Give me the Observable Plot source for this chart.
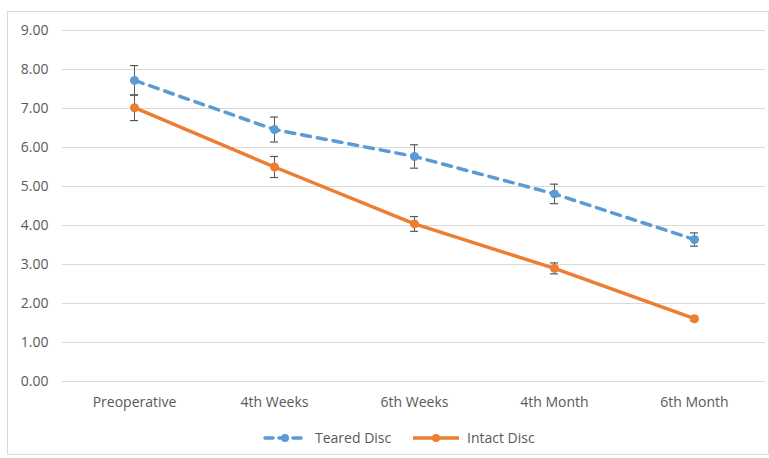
<!DOCTYPE html>
<html><head><meta charset="utf-8">
<script src="https://cdn.jsdelivr.net/npm/d3@7"></script>
<script src="https://cdn.jsdelivr.net/npm/@observablehq/plot@0.6"></script>
<style>
body{margin:0;background:#fff;font-family:"Open Sans",Arial,sans-serif;}
#frame{position:absolute;left:7px;top:11px;width:762px;height:444px;border:1px solid #d9d9d9;box-sizing:border-box;}
#chart{position:absolute;left:0;top:0;}
.item{position:absolute;top:428px;display:flex;align-items:center;font-size:14px;color:#595959;white-space:nowrap;}
.item svg{margin-right:7px;}
</style></head><body>
<div id="frame"></div>
<div id="chart"></div>
<div class="item" style="left:263px"><svg width="45" height="12"><line x1="2" y1="6" x2="43" y2="6" stroke="#5B9BD5" stroke-width="3.5" stroke-dasharray="8,6" stroke-linecap="round"/><circle cx="22" cy="6" r="4" fill="#5B9BD5"/></svg>Teared Disc</div>
<div class="item" style="left:412px"><svg width="48" height="12"><line x1="1" y1="6" x2="47" y2="6" stroke="#ED7D31" stroke-width="3.5"/><circle cx="24" cy="6" r="4" fill="#ED7D31"/></svg>Intact Disc</div>
<script>
const categories = ["Preoperative","4th Weeks","6th Weeks","4th Month","6th Month"];
const tearedValues = [7.72, 6.46, 5.77, 4.81, 3.64];
const tearedErrors = [0.38, 0.32, 0.30, 0.25, 0.17];
const intactValues = [7.02, 5.50, 4.04, 2.90, 1.61];
const intactErrors = [0.33, 0.27, 0.19, 0.14, 0.05];
const yTicks = [0,1,2,3,4,5,6,7,8,9];

const series = [
  {name:"Teared Disc", values:tearedValues, errors:tearedErrors, color:"#5B9BD5", dash:"9,7"},
  {name:"Intact Disc", values:intactValues, errors:intactErrors, color:"#ED7D31", dash:null}
];
const rows = series.flatMap(s => categories.map((c,i)=>({series:s.name, cat:c, v:s.values[i], e:s.errors[i]})));

const marks = [
  Plot.gridY(yTicks, {stroke:"#d9d9d9", strokeOpacity:1, strokeWidth:1}),
  Plot.axisY(yTicks, {tickSize:0, tickPadding:14, tickFormat:d=>d.toFixed(2), fontSize:14, fill:"#595959"}),
  Plot.axisX({tickSize:0, tickPadding:16, fontSize:14, fill:"#595959"}),
  Plot.ruleX(rows, {x:"cat", y1:d=>d.v-d.e, y2:d=>d.v+d.e, stroke:"#595959", strokeWidth:1}),
  Plot.tickY(rows, {x:"cat", y:d=>d.v+d.e, stroke:"#595959", strokeWidth:1.2, insetLeft:66, insetRight:66}),
  Plot.tickY(rows, {x:"cat", y:d=>d.v-d.e, stroke:"#595959", strokeWidth:1.2, insetLeft:66, insetRight:66})
];
for (const s of series) {
  const d = rows.filter(r=>r.series===s.name);
  marks.push(Plot.line(d, {x:"cat", y:"v", stroke:s.color, strokeWidth:3.5, strokeDasharray:s.dash, strokeLinecap:"round"}));
  marks.push(Plot.dot(d, {x:"cat", y:"v", fill:s.color, r:4.5}));
}

const chart = Plot.plot({
  width:769, height:415,
  marginLeft:62, marginRight:4, marginTop:30, marginBottom:34,
  style:{fontFamily:"'Open Sans',Arial,sans-serif", fontSize:"14px", background:"transparent"},
  x:{type:"band", domain:categories, padding:0, label:null},
  y:{domain:[0,9], label:null},
  marks
});
document.getElementById("chart").appendChild(chart);
</script>
</body></html>
